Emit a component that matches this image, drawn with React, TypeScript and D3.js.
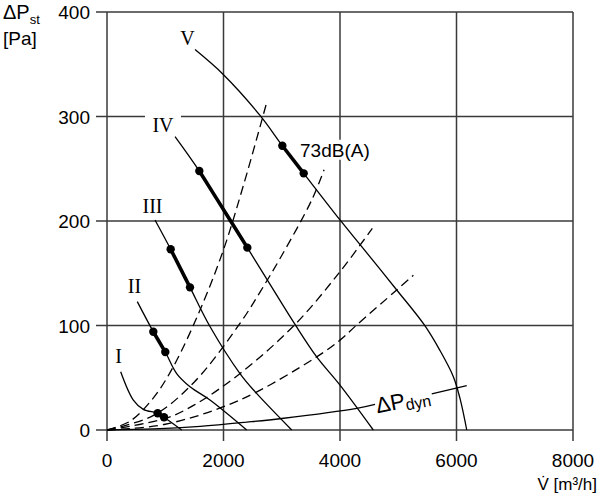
import React from 'react';
import * as d3 from 'd3';

// tick values
const xTicks = [0, 2000, 4000, 6000, 8000];
const yTicks = [0, 100, 200, 300, 400];

// fan curves [flow m3/h, static pressure Pa]
const curveI = [[235, 55.8], [452, 28.7], [624, 19.8], [870, 16], [979, 12.2], [1282, 0]];
const curveII = [[520, 122.8], [795, 94], [1001, 74.6], [1196, 54], [1425, 41.4], [1768, 28.7], [2398, 0]];
const curveIII = [[824, 201], [1093, 173], [1425, 136.5], [1768, 99], [2283, 54], [2541, 36.7], [3171, 0]];
const curveIV = [[1168, 280.7], [1585, 247.8], [2112, 201], [2409, 174.5], [2770, 142], [3228, 101], [3600, 70], [4000, 43], [4572, 0]];
const curveV = [[1511, 364], [2000, 340], [2627, 301], [3010, 272], [3377, 245.6], [4000, 201], [4373, 175.5], [4974, 134], [5448, 100.5], [5717, 76], [5946, 51], [6061, 30], [6176, 0]];

// operating range points on each fan curve
const dotsI = [[870, 16], [979, 12.2]];
const dotsII = [[795, 94], [1001, 74.6]];
const dotsIII = [[1093, 173], [1425, 136.5]];
const dotsIV = [[1585, 247.8], [2409, 174.5]];
const dotsV = [[3010, 272], [3377, 245.6]];

// system curves (dashed)
const sys1 = [[0, 0], [400, 8.6], [800, 31], [1139, 60.6], [1597, 114.8], [1997, 172], [2352, 236], [2730, 311]];
const sys2 = [[0, 0], [800, 14], [1500, 46], [2283, 102], [2627, 132], [3000, 167], [3514, 220], [3726, 249]];
const sys3 = [[0, 0], [1000, 11], [1500, 24], [2283, 54], [3228, 101], [4000, 151.5], [4555, 193]];
const sys4 = [[0, 0], [1000, 5.5], [2283, 28.7], [3600, 70], [4000, 86], [4287, 100.5], [4974, 134], [5260, 148]];

// dynamic pressure line, split around its label
const dynA = [[0, 0], [800, 1], [1600, 3.5], [2400, 7.5], [3000, 11], [4287, 20.7], [4601, 24.5]];
const dynB = [[5575, 34.5], [6176, 42.4]];

// curve labels [text, flow, pressure]
const romanLabels: [string, number, number][] = [
  ['V', 1382, 368.4],
  ['IV', 961, 285.5],
  ['III', 781, 208],
  ['II', 472, 130.8],
  ['I', 197, 63.8],
];

const fans = [
  { pts: curveI, dots: dotsI },
  { pts: curveII, dots: dotsII },
  { pts: curveIII, dots: dotsIII },
  { pts: curveIV, dots: dotsIV },
  { pts: curveV, dots: dotsV },
];

const App: React.FC = () => {
  const width = 600;
  const height = 500;
  const x = d3.scaleLinear().domain([0, 8000]).range([107, 573]);
  const y = d3.scaleLinear().domain([0, 400]).range([430, 12]);

  const line = d3.line<number[]>()
    .x(d => x(d[0]))
    .y(d => y(d[1]))
    .curve(d3.curveCatmullRom.alpha(0.5));
  const straight = d3.line<number[]>()
    .x(d => x(d[0]))
    .y(d => y(d[1]));

  const gridColor = '#3a3a3a';
  const sans = '"Liberation Sans", Arial, sans-serif';
  const serif = '"Liberation Serif", "Times New Roman", serif';

  const dynAngle = -11;
  const dynPos = [x(4640), y(16)];

  return (
    <svg width={width} height={height} style={{ position: 'absolute', left: 0, top: 0, background: '#fff' }}>
      {/* grid */}
      {yTicks.map(t => (
        <line key={'gy' + t} x1={x(0) - 11} x2={x(8000)} y1={y(t)} y2={y(t)} stroke={gridColor} strokeWidth={1.5} />
      ))}
      {xTicks.map(t => (
        <line key={'gx' + t} x1={x(t)} x2={x(t)} y1={y(400)} y2={y(0) + 11} stroke={gridColor} strokeWidth={1.5} />
      ))}

      {/* tick labels */}
      {xTicks.map(t => (
        <text key={'tx' + t} x={x(t)} y={y(0) + 37} textAnchor="middle" fontFamily={sans} fontSize={19}>{t}</text>
      ))}
      {yTicks.map(t => (
        <text key={'ty' + t} x={x(0) - 17} y={y(t) + 7} textAnchor="end" fontFamily={sans} fontSize={19}>{t}</text>
      ))}

      {/* axis titles */}
      <text x={3} y={19} fontFamily={sans} fontSize={20}>
        ΔP<tspan fontSize={13} dy={5}>st</tspan>
      </text>
      <text x={3} y={45} fontFamily={sans} fontSize={19}>[Pa]</text>
      <text x={597} y={490} textAnchor="end" fontFamily={sans} fontSize={17}>V̇ [m³/h]</text>

      {/* system curves */}
      {[sys1, sys2, sys3, sys4].map((s, i) => (
        <path key={'s' + i} d={line(s) || ''} fill="none" stroke="#000" strokeWidth={1.3} strokeDasharray="9,5" />
      ))}

      {/* dynamic pressure */}
      <path d={line(dynA) || ''} fill="none" stroke="#000" strokeWidth={1.3} />
      <path d={straight(dynB) || ''} fill="none" stroke="#000" strokeWidth={1.3} />
      <text transform={`translate(${dynPos[0]},${dynPos[1]}) rotate(${dynAngle})`} fontFamily={sans} fontSize={22}>
        ΔP<tspan fontSize={16} dy={3}>dyn</tspan>
      </text>

      {/* fan curves */}
      {fans.map((f, i) => {
        const lo = f.dots[0][0];
        const hi = f.dots[1][0];
        const seg = f.pts.filter(p => p[0] >= lo && p[0] <= hi);
        return (
          <g key={'f' + i}>
            <path d={line(f.pts) || ''} fill="none" stroke="#000" strokeWidth={1.3} />
            <path d={line(seg) || ''} fill="none" stroke="#000" strokeWidth={3.6} />
            {f.dots.map((d, j) => (
              <circle key={j} cx={x(d[0])} cy={y(d[1])} r={4.2} fill="#000" />
            ))}
          </g>
        );
      })}

      {/* labels */}
      {romanLabels.map(([t, fx, fy]) => (
        <g key={t}>
          {t === 'IV' && <rect x={x(fx) - 18} y={y(fy) - 20} width={36} height={24} fill="#fff" />}
          <text x={x(fx)} y={y(fy)} textAnchor="middle" fontFamily={serif} fontSize={20}>{t}</text>
        </g>
      ))}
      <rect x={x(3314) - 1} y={y(261.5) - 17} width={78} height={20} fill="#fff" />
      <text x={x(3314)} y={y(261.5)} fontFamily={sans} fontSize={19}>73dB(A)</text>
    </svg>
  );
};

export default App;
